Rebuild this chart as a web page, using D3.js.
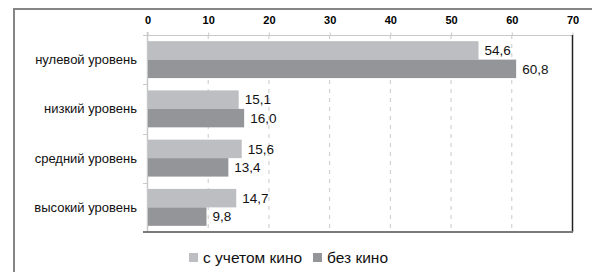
<!DOCTYPE html>
<html>
<head>
<meta charset="utf-8">
<script src="https://cdn.jsdelivr.net/npm/d3@7"></script>
<style>
  body { margin: 0; background: #fff; }
  svg { display: block; font-family: "Liberation Sans", Arial, sans-serif; }
</style>
</head>
<body>
<div id="chart"></div>
<script>
let w = 592;
let h = 272;

let categories = ["нулевой уровень", "низкий уровень", "средний уровень", "высокий уровень"];
let series_names = ["с учетом кино", "без кино"];
let with_cinema = [54.6, 15.1, 15.6, 14.7];
let without_cinema = [60.8, 16.0, 13.4, 9.8];
let x_ticks = [0, 10, 20, 30, 40, 50, 60, 70];
let colors = ["#bdbec1", "#939598"];

let plot_left = 147, plot_right = 572, plot_top = 35, plot_bottom = 232;

let svg = d3.select("#chart")
    .append("svg")
    .attr("width", w)
    .attr("height", h);

// outer frame (runs off the right and bottom)
svg.append("rect")
    .attr("x", 14).attr("y", 9)
    .attr("width", 700).attr("height", 400)
    .attr("fill", "none")
    .attr("stroke", "#858585")
    .attr("stroke-width", 2);

let x = d3.scaleLinear()
    .domain([0, 70])
    .range([plot_left, plot_right]);

let y = d3.scaleBand()
    .domain(categories)
    .range([plot_top, plot_bottom])
    .paddingInner(0.25)
    .paddingOuter(0.125);

let y_inner = d3.scaleBand()
    .domain([0, 1])
    .range([0, y.bandwidth()]);

// gridlines
svg.append("g")
    .selectAll("line")
    .data(x_ticks.slice(1, -1))
    .enter()
    .append("line")
    .attr("x1", d => x(d) + 0.5).attr("x2", d => x(d) + 0.5)
    .attr("y1", plot_top).attr("y2", plot_bottom)
    .attr("stroke", "#c9c9c9")
    .attr("stroke-dasharray", "4,5");

// top axis
let x_axis = d3.axisTop()
    .scale(x)
    .tickValues(x_ticks)
    .tickSize(3)
    .tickPadding(9);

let gx = svg.append("g")
    .attr("transform", "translate(0.5, " + (plot_top + 0.5) + ")")
    .call(x_axis);
gx.select(".domain").remove();
gx.selectAll(".tick line").attr("stroke", "#c9c9c9");
gx.selectAll(".tick text")
    .attr("font-size", 11)
    .attr("font-weight", "bold")
    .attr("font-family", "Liberation Sans, Arial, sans-serif")
    .attr("fill", "#000");
svg.append("line")
    .attr("x1", plot_left - 4).attr("x2", plot_right)
    .attr("y1", plot_top + 0.5).attr("y2", plot_top + 0.5)
    .attr("stroke", "#c9c9c9");

// left axis with ticks between categories
let boundaries = categories.slice(1).map(c => y(c) - y.step() * y.paddingInner() / 2);
boundaries.unshift(plot_top);
boundaries.push(plot_bottom);
svg.append("line")
    .attr("x1", plot_left + 0.5).attr("x2", plot_left + 0.5)
    .attr("y1", plot_top - 3).attr("y2", plot_bottom)
    .attr("stroke", "#c9c9c9")
    .attr("stroke-width", 1.5);
svg.append("g")
    .selectAll("line")
    .data(boundaries)
    .enter()
    .append("line")
    .attr("x1", plot_left - 4).attr("x2", plot_left)
    .attr("y1", d => Math.round(d) + 0.5).attr("y2", d => Math.round(d) + 0.5)
    .attr("stroke", "#c9c9c9");

svg.append("g")
    .selectAll("text")
    .data(categories)
    .enter()
    .append("text")
    .attr("x", plot_left - 10)
    .attr("y", d => y(d) + y.bandwidth() / 2)
    .attr("dy", "0.35em")
    .attr("text-anchor", "end")
    .attr("font-size", 13)
    .attr("fill", "#111")
    .text(d => d);

// bars
let series = [with_cinema, without_cinema];
series.forEach((vals, si) => {
    let g = svg.append("g");
    g.selectAll("rect")
        .data(vals)
        .enter()
        .append("rect")
        .attr("x", x(0) + 1)
        .attr("y", (d, i) => y(categories[i]) + y_inner(si))
        .attr("width", d => x(d) - x(0) - 1)
        .attr("height", y_inner.bandwidth())
        .attr("fill", colors[si]);
    g.selectAll("text")
        .data(vals)
        .enter()
        .append("text")
        .attr("x", d => x(d) + 6)
        .attr("y", (d, i) => y(categories[i]) + y_inner(si) + y_inner.bandwidth() / 2)
        .attr("dy", "0.35em")
        .attr("font-size", 13.5)
        .attr("fill", "#111")
        .text(d => d.toFixed(1).replace(".", ","));
});

// right and bottom borders
svg.append("line")
    .attr("x1", plot_right + 0.5).attr("x2", plot_right + 0.5)
    .attr("y1", plot_top).attr("y2", plot_bottom)
    .attr("stroke", "#222")
    .attr("stroke-width", 1.5);
svg.append("line")
    .attr("x1", plot_left - 4).attr("x2", plot_right + 1)
    .attr("y1", plot_bottom).attr("y2", plot_bottom)
    .attr("stroke", "#7a7a7a")
    .attr("stroke-width", 2);

// legend
let legend_x = [189, 313];
let lg = svg.append("g");
series_names.forEach((name, i) => {
    lg.append("rect")
        .attr("x", legend_x[i]).attr("y", 253)
        .attr("width", 9).attr("height", 9)
        .attr("fill", colors[i]);
    lg.append("text")
        .attr("x", legend_x[i] + 14)
        .attr("y", 258)
        .attr("dy", "0.35em")
        .attr("font-size", 15.5)
        .attr("fill", "#111")
        .text(name);
});
</script>
</body>
</html>
